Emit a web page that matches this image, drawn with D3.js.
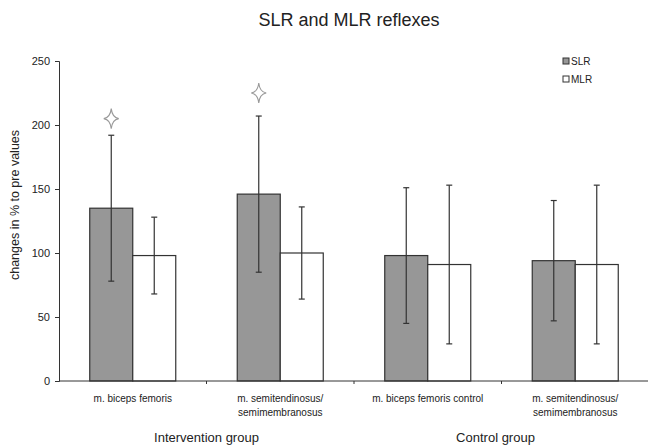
<!DOCTYPE html>
<meta charset="utf-8">
<script src="https://d3js.org/d3.v7.min.js"></script>
<style>
  body { margin: 0; background: #fff; }
  text { font-family: "Liberation Sans", Arial, sans-serif; fill: #222; }
</style>
<div id="chart"></div>
<script>

// data
var categories = ["m. biceps femoris", "m. semitendinosus/\nsemimembranosus",
                  "m. biceps femoris control", "m. semitendinosus/\nsemimembranosus"];
var seriesNames = ["SLR", "MLR"];
var slrMean = [135, 146, 98, 94];
var slrErr  = [57, 61, 53, 47];
var mlrMean = [98, 100, 91, 91];
var mlrErr  = [30, 36, 62, 62];
var starValues = [205, 225, null, null];   // significance marks over SLR bars
var groups = [{label: "Intervention group", from: 0, to: 1},
              {label: "Control group", from: 2, to: 3}];
var yTicks = [0, 50, 100, 150, 200, 250];

var width = 648, height = 448;
var margin = {top: 61, right: 0, bottom: 67, left: 59};

var svg = d3.select("#chart").append("svg")
    .attr("width", width)
    .attr("height", height);

var x = d3.scaleBand()
    .domain(d3.range(categories.length))
    .range([margin.left, 649])
    .paddingInner(0)
    .paddingOuter(0);

var xSub = d3.scaleBand()
    .domain(seriesNames)
    .range([0, x.bandwidth()])
    .paddingInner(0)
    .paddingOuter(0.715);

var y = d3.scaleLinear()
    .domain([0, 250])
    .range([height - margin.bottom, margin.top]);

var fills = {SLR: "#979797", MLR: "#ffffff"};

// title
svg.append("text")
    .attr("x", 349).attr("y", 26)
    .attr("text-anchor", "middle")
    .style("font-size", "18px")
    .text("SLR and MLR reflexes");

// y axis
var yAxis = svg.append("g")
    .attr("transform", "translate(" + margin.left + ",0)")
    .call(d3.axisLeft(y).tickValues(yTicks).tickSize(4).tickPadding(5));
yAxis.select(".domain").attr("stroke", "#333");
yAxis.selectAll(".tick line").attr("stroke", "#333");
yAxis.selectAll("text").style("font-size", "11px").style("fill", "#222")
    .style("font-family", "Liberation Sans, Arial, sans-serif");

svg.append("text")
    .attr("transform", "translate(19,205) rotate(-90)")
    .attr("text-anchor", "middle")
    .style("font-size", "12.5px")
    .text("changes in % to pre values");

// rows for bars
var rows = categories.map(function(c, i) {
  return [
    {key: "SLR", i: i, v: slrMean[i], e: slrErr[i]},
    {key: "MLR", i: i, v: mlrMean[i], e: mlrErr[i]}
  ];
});

var cat = svg.selectAll(".cat").data(rows).enter().append("g")
    .attr("transform", function(d, i) { return "translate(" + x(i) + ",0)"; });

cat.selectAll("rect").data(function(d) { return d; }).enter().append("rect")
    .attr("x", function(d) { return xSub(d.key); })
    .attr("width", xSub.bandwidth())
    .attr("y", function(d) { return y(d.v); })
    .attr("height", function(d) { return y(0) - y(d.v); })
    .attr("fill", function(d) { return fills[d.key]; })
    .attr("stroke", "#333")
    .attr("stroke-width", 1.2);

// error bars
var err = cat.selectAll(".err").data(function(d) { return d; }).enter().append("g")
    .attr("transform", function(d) { return "translate(" + (xSub(d.key) + xSub.bandwidth() / 2) + ",0)"; })
    .attr("stroke", "#333")
    .attr("stroke-width", 1.2);
err.append("line")
    .attr("y1", function(d) { return y(d.v + d.e); })
    .attr("y2", function(d) { return y(d.v - d.e); });
err.append("line")
    .attr("x1", -3).attr("x2", 3)
    .attr("y1", function(d) { return y(d.v + d.e); })
    .attr("y2", function(d) { return y(d.v + d.e); });
err.append("line")
    .attr("x1", -3).attr("x2", 3)
    .attr("y1", function(d) { return y(d.v - d.e); })
    .attr("y2", function(d) { return y(d.v - d.e); });

// x axis
var xAxis = svg.append("g")
    .attr("transform", "translate(0," + y(0) + ")");
xAxis.append("line")
    .attr("x1", margin.left).attr("x2", 648)
    .attr("stroke", "#333");
xAxis.selectAll(".tk").data(d3.range(1, categories.length)).enter().append("line")
    .attr("x1", function(d) { return x(d); })
    .attr("x2", function(d) { return x(d); })
    .attr("y1", 0).attr("y2", 3)
    .attr("stroke", "#333");

// category labels
svg.selectAll(".clab").data(categories).enter().append("text")
    .attr("text-anchor", "middle")
    .attr("transform", function(d, i) { return "translate(" + (x(i) + x.bandwidth() / 2) + ",402)"; })
    .style("font-size", "10px")
    .each(function(d) {
      var t = d3.select(this);
      d.split("\n").forEach(function(line, k) {
        t.append("tspan").attr("x", 0).attr("dy", k === 0 ? 0 : 14).text(line);
      });
    });

// group labels
svg.selectAll(".glab").data(groups).enter().append("text")
    .attr("x", function(g) { return (x(g.from) + x(g.to) + x.bandwidth()) / 2 - (g.from ? 6 : 0); })
    .attr("y", 442)
    .attr("text-anchor", "middle")
    .style("font-size", "13px")
    .text(function(g) { return g.label; });

// significance stars
var star = "M0,-10 Q1,-1 7.5,0 Q1,1 0,10 Q-1,1 -7.5,0 Q-1,-1 0,-10Z";
svg.selectAll(".star").data(starValues.map(function(v, i) { return {v: v, i: i}; })
      .filter(function(d) { return d.v !== null; }))
  .enter().append("path")
    .attr("d", star)
    .attr("transform", function(d) {
      return "translate(" + (x(d.i) + xSub("SLR") + xSub.bandwidth() / 2) + "," + y(d.v) + ")";
    })
    .attr("fill", "#fff")
    .attr("stroke", "#999")
    .attr("stroke-width", 1.1);

// legend
var legend = svg.selectAll(".leg").data(seriesNames).enter().append("g")
    .attr("transform", function(d, i) { return "translate(563," + (58 + i * 18) + ")"; });
legend.append("rect")
    .attr("width", 6).attr("height", 6)
    .attr("fill", function(d) { return fills[d]; })
    .attr("stroke", "#333");
legend.append("text")
    .attr("x", 8).attr("y", 6.5)
    .style("font-size", "10px")
    .text(function(d) { return d; });

</script>
